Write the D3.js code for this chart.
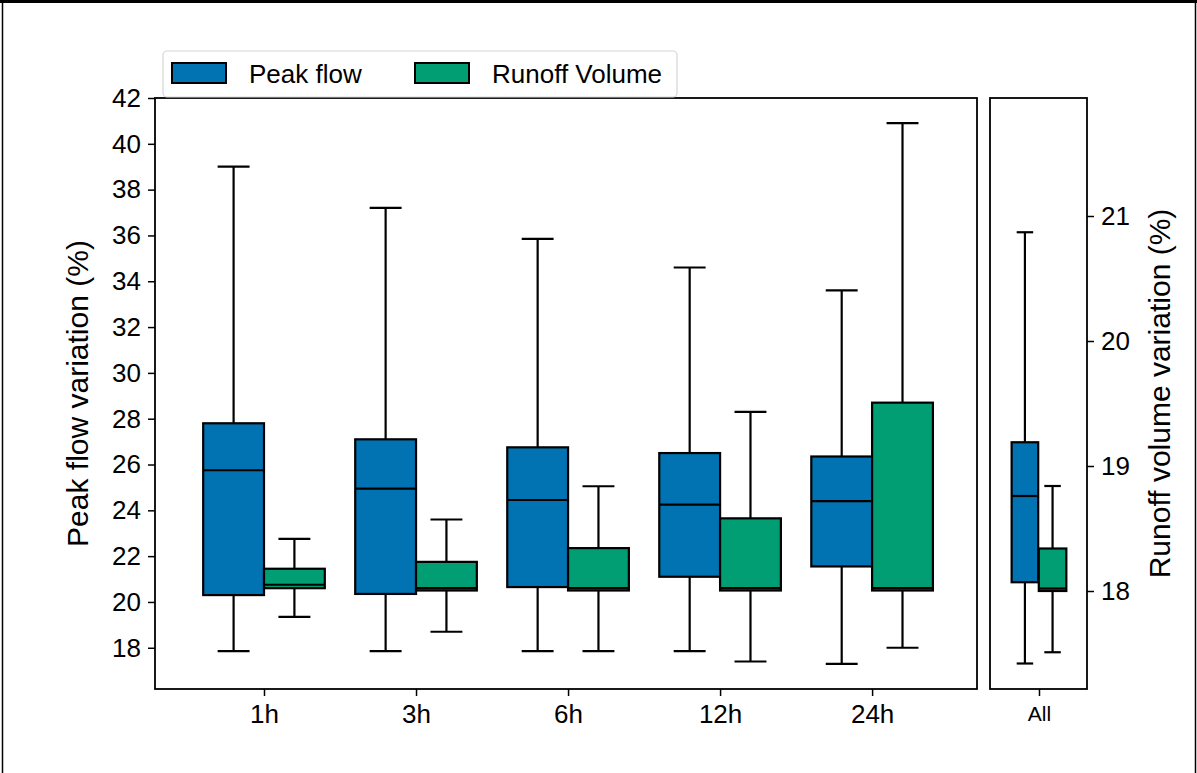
<!DOCTYPE html>
<html>
<head>
<meta charset="utf-8">
<script src="https://cdn.jsdelivr.net/npm/d3@7"></script>
<style>
  html, body { margin: 0; padding: 0; background: #fff; }
  svg { display: block; font-family: "Liberation Sans", Arial, sans-serif; }
</style>
</head>
<body>
<svg id="chart" width="1197" height="773"></svg>
<script>
// ---- data ----
const categories = ["1h", "3h", "6h", "12h", "24h"];
const seriesNames = ["Peak flow", "Runoff Volume"];
// [whisker low, Q1, median, Q3, whisker high]
const peakFlow = [
  [17.85, 20.3, 25.75, 27.8, 39.0],
  [17.85, 20.35, 24.95, 27.1, 37.2],
  [17.85, 20.65, 24.45, 26.75, 35.85],
  [17.85, 21.1, 24.25, 26.5, 34.6],
  [17.3, 21.55, 24.4, 26.35, 33.6]
];
const runoffVolume = [
  [19.35, 20.6, 20.75, 21.45, 22.75],
  [18.7, 20.5, 20.6, 21.75, 23.6],
  [17.85, 20.5, 20.6, 22.35, 25.05],
  [17.4, 20.5, 20.6, 23.65, 28.3],
  [18.0, 20.5, 20.6, 28.7, 40.9]
];
const allCategory = ["All"];
const allPeakFlow = [17.42, 18.07, 18.76, 19.19, 20.87];
const allRunoff = [17.51, 18.0, 18.02, 18.34, 18.84];
const leftTicks = [18, 20, 22, 24, 26, 28, 30, 32, 34, 36, 38, 40, 42];
const rightTicks = [18, 19, 20, 21];
const colors = ["#0173b2", "#029e73"];

// ---- layout ----
const svg = d3.select("#chart");
const plotTop = 98, plotBottom = 689;
const mainL = 155, mainR = 977;
const sideL = 990, sideR = 1087;
const FONT = "Liberation Sans, Arial, sans-serif";

// outer frame
svg.append("line").attr("x1", 0).attr("x2", 1197).attr("y1", 1.5).attr("y2", 1.5).attr("stroke", "#000").attr("stroke-width", 3);
svg.append("line").attr("x1", 2.5).attr("x2", 2.5).attr("y1", 0).attr("y2", 773).attr("stroke", "#000").attr("stroke-width", 1.5);
svg.append("line").attr("x1", 1195.5).attr("x2", 1195.5).attr("y1", 0).attr("y2", 773).attr("stroke", "#000").attr("stroke-width", 1.5);

const x = d3.scaleLinear().domain([0.283, 5.69]).range([mainL, mainR]);
const y = d3.scaleLinear().domain([16.2, 42]).range([plotBottom, plotTop]);
const xs = d3.scaleLinear().domain([0, 1]).range([sideL, sideR]);
const yr = d3.scaleLinear().domain([17.216, 21.944]).range([plotBottom, plotTop]);

function drawBox(g, cx, halfW, capHalf, s, ys, color) {
  const [lo, q1, med, q3, hi] = s;
  g.append("line").attr("x1", cx).attr("x2", cx).attr("y1", ys(q3)).attr("y2", ys(hi)).attr("stroke", "#000").attr("stroke-width", 2.2);
  g.append("line").attr("x1", cx).attr("x2", cx).attr("y1", ys(q1)).attr("y2", ys(lo)).attr("stroke", "#000").attr("stroke-width", 2.2);
  g.append("line").attr("x1", cx - capHalf).attr("x2", cx + capHalf).attr("y1", ys(hi)).attr("y2", ys(hi)).attr("stroke", "#000").attr("stroke-width", 2.2);
  g.append("line").attr("x1", cx - capHalf).attr("x2", cx + capHalf).attr("y1", ys(lo)).attr("y2", ys(lo)).attr("stroke", "#000").attr("stroke-width", 2.2);
  g.append("rect").attr("x", cx - halfW).attr("y", ys(q3)).attr("width", 2 * halfW).attr("height", ys(q1) - ys(q3))
    .attr("fill", color).attr("stroke", "#000").attr("stroke-width", 2.2);
  g.append("line").attr("x1", cx - halfW).attr("x2", cx + halfW).attr("y1", ys(med)).attr("y2", ys(med)).attr("stroke", "#000").attr("stroke-width", 2.2);
}

// ---- main panel ----
const gMain = svg.append("g");
const off = 0.2, bw = 0.2, cap = 0.105;
const pxPerUnit = x(1) - x(0);
categories.forEach((c, i) => {
  const pos = i + 1;
  drawBox(gMain, x(pos - off), bw * pxPerUnit, cap * pxPerUnit, peakFlow[i], y, colors[0]);
  drawBox(gMain, x(pos + off), bw * pxPerUnit, cap * pxPerUnit, runoffVolume[i], y, colors[1]);
});
gMain.append("rect").attr("x", mainL).attr("y", plotTop).attr("width", mainR - mainL).attr("height", plotBottom - plotTop)
  .attr("fill", "none").attr("stroke", "#000").attr("stroke-width", 1.8);

// left axis
const yAxis = d3.axisLeft(y).tickValues(leftTicks).tickFormat(d3.format("d")).tickSize(7).tickPadding(7);
const gy = svg.append("g").attr("transform", `translate(${mainL},0)`).call(yAxis);
gy.attr("font-size", 26).attr("font-family", FONT);
gy.select(".domain").remove();
gy.selectAll(".tick line").attr("stroke-width", 1.5);
gy.selectAll(".tick text").attr("fill", "#000");

// bottom axis main
const xAxis = d3.axisBottom(x).tickValues(categories.map((c, i) => i + 1)).tickFormat((d, i) => categories[i]).tickSize(7).tickPadding(9);
const gx = svg.append("g").attr("transform", `translate(0,${plotBottom})`).call(xAxis);
gx.attr("font-size", 26).attr("font-family", FONT);
gx.select(".domain").remove();
gx.selectAll(".tick line").attr("stroke-width", 1.5);
gx.selectAll(".tick text").attr("fill", "#000");

// ---- side panel ----
const gSide = svg.append("g");
const sc = 0.505;
const sPx = xs(1) - xs(0);
drawBox(gSide, xs(sc - 0.145), 0.137 * sPx, 0.085 * sPx, allPeakFlow, yr, colors[0]);
drawBox(gSide, xs(sc + 0.14), 0.142 * sPx, 0.085 * sPx, allRunoff, yr, colors[1]);
gSide.append("rect").attr("x", sideL).attr("y", plotTop).attr("width", sideR - sideL).attr("height", plotBottom - plotTop)
  .attr("fill", "none").attr("stroke", "#000").attr("stroke-width", 1.8);

const xsAxis = d3.axisBottom(xs).tickValues([sc]).tickFormat(() => allCategory[0]).tickSize(7).tickPadding(10);
const gxs = svg.append("g").attr("transform", `translate(0,${plotBottom})`).call(xsAxis);
gxs.attr("font-size", 21).attr("font-family", FONT);
gxs.select(".domain").remove();
gxs.selectAll(".tick line").attr("stroke-width", 1.5);
gxs.selectAll(".tick text").attr("fill", "#000");

const yrAxis = d3.axisRight(yr).tickValues(rightTicks).tickFormat(d3.format("d")).tickSize(7).tickPadding(7);
const gyr = svg.append("g").attr("transform", `translate(${sideR},0)`).call(yrAxis);
gyr.attr("font-size", 26).attr("font-family", FONT);
gyr.select(".domain").remove();
gyr.selectAll(".tick line").attr("stroke-width", 1.5);
gyr.selectAll(".tick text").attr("fill", "#000");

// axis titles
svg.append("text").attr("transform", `translate(88,${(plotTop + plotBottom) / 2}) rotate(-90)`).attr("text-anchor", "middle")
  .attr("font-size", 30).attr("font-family", FONT).attr("fill", "#000").text("Peak flow variation (%)");
svg.append("text").attr("transform", `translate(1170,${(plotTop + plotBottom) / 2}) rotate(-90)`).attr("text-anchor", "middle")
  .attr("font-size", 30).attr("font-family", FONT).attr("fill", "#000").text("Runoff volume variation (%)");

// ---- legend ----
const lg = svg.append("g");
lg.append("rect").attr("x", 163).attr("y", 51).attr("width", 514).attr("height", 46).attr("rx", 4)
  .attr("fill", "#fff").attr("fill-opacity", 0.85).attr("stroke", "#d6d6d6").attr("stroke-width", 1.2);
const legendX = [172, 415];
seriesNames.forEach((n, i) => {
  lg.append("rect").attr("x", legendX[i]).attr("y", 63).attr("width", 54).attr("height", 20)
    .attr("fill", colors[i]).attr("stroke", "#000").attr("stroke-width", 2);
  lg.append("text").attr("x", legendX[i] + 77).attr("y", 83).attr("font-size", 26).attr("font-family", FONT)
    .attr("fill", "#000").text(n);
});
</script>
</body>
</html>
